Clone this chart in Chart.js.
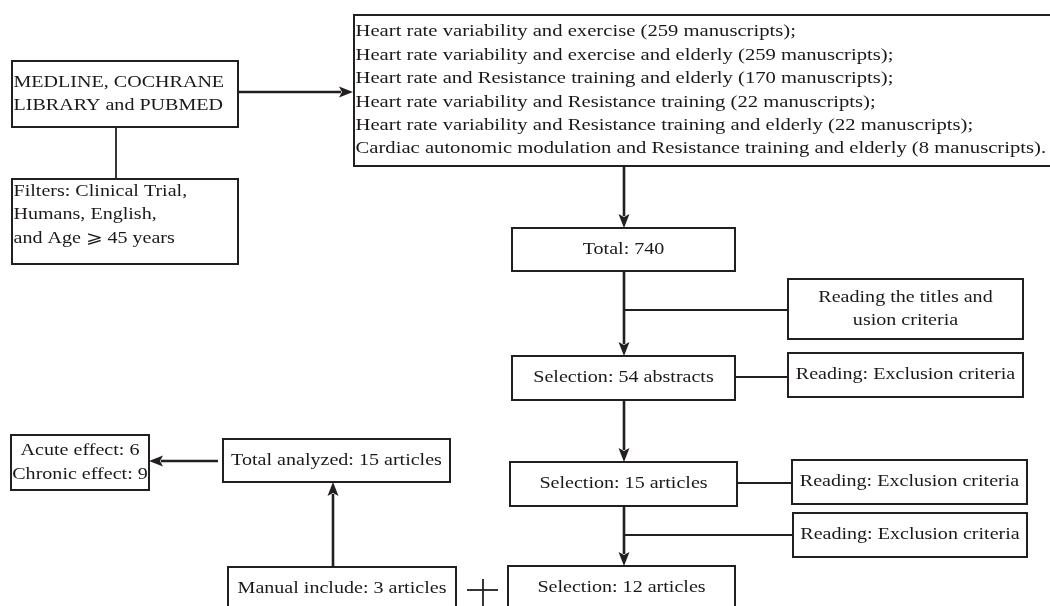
<!DOCTYPE html>
<html>
<head>
<meta charset="utf-8">
<script src="https://cdn.jsdelivr.net/npm/chart.js@4.4.1/dist/chart.umd.min.js"></script>
<style>
html,body{margin:0;padding:0;background:#fff;}
#wrap{width:1050px;height:606px;}
</style>
</head>
<body>
<div id="wrap"><canvas id="c" width="1050" height="606"></canvas></div>
<script>
// ---------- DATA ----------
const sourceLines = ["MEDLINE, COCHRANE", "LIBRARY and PUBMED"];
const filterLines = ["Filters: Clinical Trial,", "Humans, English,", "and Age \u2A7E 45 years"];
const searchTerms = [
  "Heart rate variability and exercise",
  "Heart rate variability and exercise and elderly",
  "Heart rate and Resistance training and elderly",
  "Heart rate variability and Resistance training",
  "Heart rate variability and Resistance training and elderly",
  "Cardiac autonomic modulation and Resistance training and elderly"
];
const searchCounts = [259, 259, 170, 22, 22, 8];
const stageNames = ["Total", "Selection", "Selection", "Selection"];
const stageCounts = [740, 54, 15, 12];
const stageUnits = ["", "abstracts", "articles", "articles"];
const screeningNotes = [
  ["Reading the titles and", "usion criteria"],
  ["Reading: Exclusion criteria"],
  ["Reading: Exclusion criteria"],
  ["Reading: Exclusion criteria"]
];
const manualLabel = "Manual include";
const manualCount = 3;
const analyzedLabel = "Total analyzed";
const analyzedCount = 15;
const effectNames = ["Acute effect", "Chronic effect"];
const effectCounts = [6, 9];

// ---------- LAYOUT (data units on hidden 0..1050 / 0..606 scales) ----------
const layout = {
  source:   [12, 61, 238, 127],
  filters:  [12, 179, 238, 264],
  search:   [354, 15, 1052, 166],
  stages:   [[512, 228, 735, 271], [512, 356, 735, 400], [510, 462, 737, 506], [508, 566, 735, 610]],
  notes:    [[788, 279, 1023, 339], [788, 353, 1023, 397], [792, 460, 1027, 504], [793, 513, 1027, 557]],
  manual:   [228, 567, 456, 611],
  analyzed: [223, 439, 450, 482],
  effects:  [11, 435, 149, 490]
};
const arrows = [
  [238, 92, 353, 92], [624, 166, 624, 228], [624, 271, 624, 356],
  [624, 400, 624, 462], [624, 506, 624, 566], [333, 567, 333, 482], [218, 461, 149, 461]
];
const links = [
  [116, 127, 116, 179], [624, 310, 788, 310], [735, 377, 788, 377],
  [737, 483, 792, 483], [624, 535, 793, 535],
  [467, 590, 498, 590], [483, 579, 483, 606]
];

const INK = '#231f20';
const TEXT_INK = '#1c1819';
const FONT = '17px "Liberation Serif", "Times New Roman", serif';
const HSCALE = 1.18;
const HSCALE_SEARCH = 1.215;
const LH = 23.4;

function buildTexts() {
  const t = [];
  t.push({box: layout.source, lines: sourceLines, align: 'left', hs: HSCALE});
  t.push({box: layout.filters, lines: filterLines, align: 'lefttop', hs: HSCALE});
  t.push({box: layout.search, lines: searchTerms.map((s, i) => s + ' (' + searchCounts[i] + ' manuscripts)' + (i === searchTerms.length - 1 ? '.' : ';')), align: 'left', hs: HSCALE_SEARCH});
  stageNames.forEach((n, i) => t.push({box: layout.stages[i], lines: [n + ': ' + stageCounts[i] + (stageUnits[i] ? ' ' + stageUnits[i] : '')], align: 'center', hs: HSCALE}));
  screeningNotes.forEach((n, i) => t.push({box: layout.notes[i], lines: n, align: 'center', hs: HSCALE}));
  t.push({box: layout.manual, lines: [manualLabel + ': ' + manualCount + ' articles'], align: 'center', hs: HSCALE});
  t.push({box: layout.analyzed, lines: [analyzedLabel + ': ' + analyzedCount + ' articles'], align: 'center', hs: HSCALE});
  t.push({box: layout.effects, lines: effectNames.map((n, i) => n + ': ' + effectCounts[i]), align: 'center', hs: HSCALE});
  return t;
}

const flowPlugin = {
  id: 'flow',
  afterDatasetsDraw(chart) {
    const ctx = chart.ctx, xs = chart.scales.x, ys = chart.scales.y;
    const px = v => xs.getPixelForValue(v), py = v => ys.getPixelForValue(v);
    ctx.save();
    ctx.strokeStyle = INK; ctx.fillStyle = INK;
    const boxes = [layout.source, layout.filters, layout.search, ...layout.stages, ...layout.notes, layout.manual, layout.analyzed, layout.effects];
    ctx.lineWidth = 2;
    boxes.forEach(b => {
      const x0 = px(b[0]), y0 = py(b[1]), x1 = px(b[2]), y1 = py(b[3]);
      ctx.strokeRect(x0, y0, x1 - x0, y1 - y0);
    });
    ctx.lineWidth = 1.8;
    links.forEach(l => {
      ctx.beginPath(); ctx.moveTo(px(l[0]), py(l[1])); ctx.lineTo(px(l[2]), py(l[3])); ctx.stroke();
    });
    ctx.lineWidth = 2.6;
    arrows.forEach(a => {
      const x0 = px(a[0]), y0 = py(a[1]), x1 = px(a[2]), y1 = py(a[3]);
      const ang = Math.atan2(y1 - y0, x1 - x0), L = 14, W = 5.5;
      const bx = x1 - L * Math.cos(ang), by = y1 - L * Math.sin(ang);
      ctx.beginPath(); ctx.moveTo(x0, y0); ctx.lineTo(bx + 2 * Math.cos(ang), by + 2 * Math.sin(ang)); ctx.stroke();
      ctx.beginPath();
      ctx.moveTo(x1, y1);
      ctx.lineTo(bx + W * Math.sin(ang), by - W * Math.cos(ang));
      ctx.lineTo(bx + 3 * Math.cos(ang), by + 3 * Math.sin(ang));
      ctx.lineTo(bx - W * Math.sin(ang), by + W * Math.cos(ang));
      ctx.closePath(); ctx.fill();
    });
    ctx.font = FONT; ctx.textBaseline = 'middle'; ctx.fillStyle = TEXT_INK;
    buildTexts().forEach(t => {
      const b = t.box;
      const x0 = px(b[0]), y0 = py(b[1]), x1 = px(b[2]), y1 = py(b[3]);
      const n = t.lines.length;
      let first;
      if (t.align === 'lefttop') first = y0 + 12.5;
      else first = (y0 + y1) / 2 - (n - 1) * LH / 2;
      t.lines.forEach((s, i) => {
        const y = first + i * LH;
        ctx.save();
        if (t.align === 'center') {
          ctx.textAlign = 'center';
          ctx.translate((x0 + x1) / 2, y);
        } else {
          ctx.textAlign = 'left';
          ctx.translate(x0 + 1.5, y);
        }
        ctx.scale(t.hs, 1);
        ctx.fillText(s, 0, 0);
        ctx.restore();
      });
    });
    ctx.restore();
  }
};

new Chart(document.getElementById('c'), {
  type: 'scatter',
  data: { datasets: [{ data: [], pointRadius: 0 }] },
  options: {
    responsive: false,
    animation: false,
    events: [],
    layout: { padding: 0 },
    plugins: { legend: { display: false }, tooltip: { enabled: false } },
    scales: {
      x: { type: 'linear', min: 0, max: 1050, display: false },
      y: { type: 'linear', min: 0, max: 606, reverse: true, display: false }
    }
  },
  plugins: [flowPlugin]
});
</script>
</body>
</html>
